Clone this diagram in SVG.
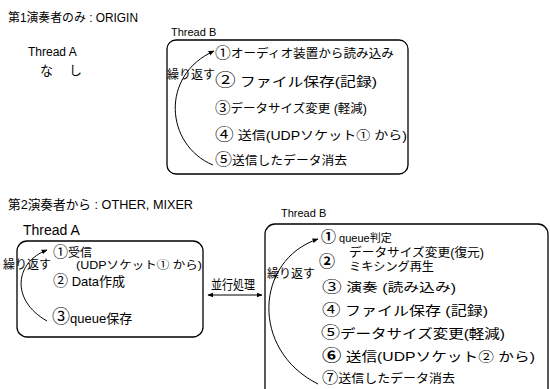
<svg xmlns="http://www.w3.org/2000/svg" width="550" height="389" viewBox="0 0 550 389">
<style>
text{font-family:"Liberation Sans","Noto Sans CJK JP",sans-serif;fill:#000}
.c{font-family:"Noto Sans CJK JP",sans-serif}
.t{font-size:12px}
.s{font-size:11px}
.m{font-size:13px}
.box{fill:none;stroke:#000;stroke-width:1.3}
.arc{fill:none;stroke:#000;stroke-width:1}
</style>
<defs>
<marker id="ah" viewBox="0 0 10 10" refX="9" refY="5" markerWidth="6" markerHeight="6" orient="auto" markerUnits="userSpaceOnUse">
<path d="M0,1 L10,5 L0,9 z" fill="#000"/>
</marker>
<marker id="ah2" viewBox="0 0 10 10" refX="9" refY="5" markerWidth="6" markerHeight="6" orient="auto-start-reverse" markerUnits="userSpaceOnUse">
<path d="M0,1 L10,5 L0,9 z" fill="#000"/>
</marker>
</defs>

<g id="title1"><text x="8" y="22" class="t" textLength="130" lengthAdjust="spacingAndGlyphs">第1演奏者のみ : ORIGIN</text></g>

<g id="origin-threadA">
<text x="28" y="56" class="t">Thread A</text>
<text x="40" y="75" class="m" textLength="42">な し</text>
</g>

<g id="origin-threadB">
<text x="171" y="36" class="s">Thread B</text>
<rect class="box" x="167" y="40" width="241" height="134" rx="9"/>
<text x="167" y="79" class="t">繰り返す</text>
<text x="215" y="58" class="t" textLength="179" lengthAdjust="spacingAndGlyphs"><tspan class="c" font-size="15">①</tspan>オーディオ装置から読み込み</text>
<text x="215" y="86" class="m" textLength="162" lengthAdjust="spacingAndGlyphs"><tspan class="c" font-size="17">②</tspan> ファイル保存(記録)</text>
<text x="215" y="113" class="t" textLength="152" lengthAdjust="spacingAndGlyphs"><tspan class="c" font-size="15">③</tspan>データサイズ変更 (軽減)</text>
<text x="215" y="140" class="t" textLength="192" lengthAdjust="spacingAndGlyphs"><tspan class="c" font-size="16">④</tspan> 送信(UDPソケット<tspan class="c">①</tspan> から)</text>
<text x="215" y="165" class="t" textLength="132" lengthAdjust="spacingAndGlyphs"><tspan class="c" font-size="16">⑤</tspan>送信したデータ消去</text>
</g>

<g id="title2"><text x="8" y="209" class="m" textLength="185" lengthAdjust="spacingAndGlyphs">第2演奏者から : OTHER, MIXER</text></g>

<g id="other-threadA">
<text x="23" y="235" font-size="14">Thread A</text>
<rect class="box" x="17" y="241" width="186" height="96" rx="10"/>
<text x="53" y="257" class="t"><tspan class="c" font-size="15">①</tspan>受信</text>
<text x="3" y="269" class="t">繰り返す</text>
<text x="76" y="269" class="s" textLength="126" lengthAdjust="spacingAndGlyphs">(UDPソケット<tspan class="c">①</tspan> から)</text>
<text x="53" y="286" class="m"><tspan class="c" font-size="15">②</tspan> Data作成</text>
<text x="52" y="323" class="m"><tspan class="c" font-size="18">③</tspan>queue保存</text>
</g>

<g id="parallel">
<text x="211" y="289" class="m" textLength="44" lengthAdjust="spacingAndGlyphs">並行処理</text>
</g>

<g id="other-threadB">
<text x="281" y="217" class="s">Thread B</text>
<rect class="box" x="265" y="224" width="283" height="178" rx="10"/>
<text x="321" y="242" class="s"><tspan class="c" font-size="15" font-weight="bold">①</tspan> queue判定</text>
<text x="319" y="267" class="c" font-size="16" font-weight="bold">②</text>
<text x="349" y="257" class="t" textLength="135" lengthAdjust="spacingAndGlyphs">データサイズ変更(復元)</text>
<text x="349" y="271" class="t" textLength="85" lengthAdjust="spacingAndGlyphs">ミキシング再生</text>
<text x="267" y="278" class="t">繰り返す</text>
<text x="322" y="292" class="t" textLength="134" lengthAdjust="spacingAndGlyphs"><tspan class="c" font-size="15">③</tspan> 演奏 (読み込み)</text>
<text x="322" y="315" class="m" textLength="166" lengthAdjust="spacingAndGlyphs"><tspan class="c" font-size="15">④</tspan> ファイル保存 (記録)</text>
<text x="321" y="338" class="m" textLength="184" lengthAdjust="spacingAndGlyphs"><tspan class="c" font-size="16">⑤</tspan>データサイズ変更(軽減)</text>
<text x="322" y="361" class="m" textLength="213" lengthAdjust="spacingAndGlyphs"><tspan class="c" font-size="16" font-weight="bold">⑥</tspan> 送信(UDPソケット<tspan class="c">②</tspan> から)</text>
<text x="322" y="383" class="t" textLength="133" lengthAdjust="spacingAndGlyphs"><tspan class="c" font-size="15">⑦</tspan>送信したデータ消去</text>
</g>

<g id="connectors">
<path class="arc" d="M213,165 C165,145 160,75 214,51" marker-end="url(#ah)"/>
<path class="arc" d="M47,321 C10,300 15,262 47,250" marker-end="url(#ah)"/>
<path class="arc" d="M318,384 C250,350 255,260 318,239" marker-end="url(#ah)"/>
<path class="arc" d="M208,295 L262,295" marker-start="url(#ah2)" marker-end="url(#ah2)"/>
</g>
</svg>
